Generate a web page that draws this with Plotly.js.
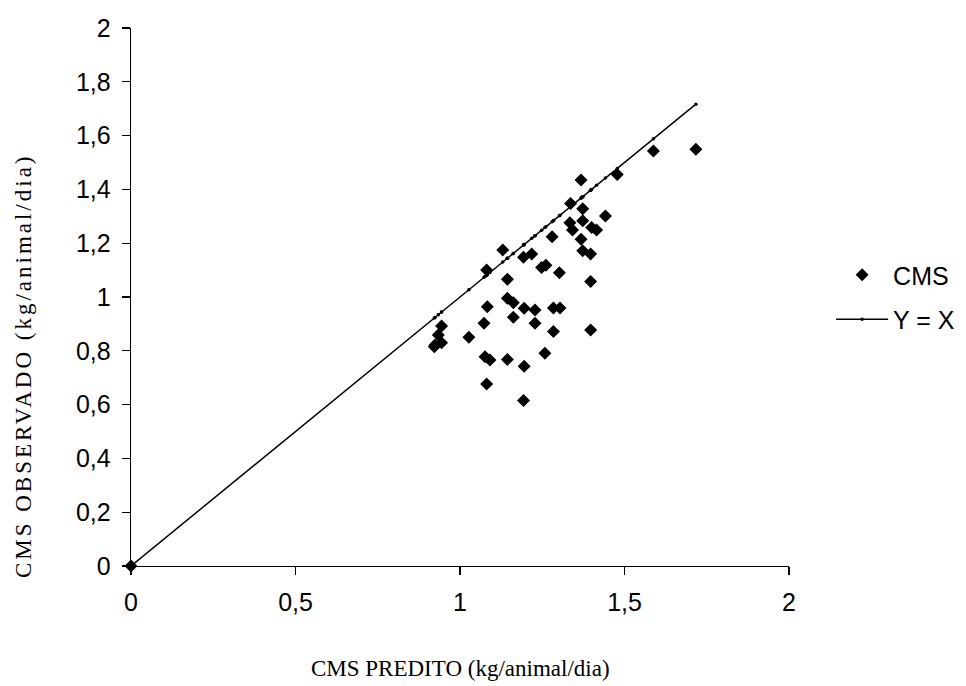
<!DOCTYPE html>
<html>
<head>
<meta charset="utf-8">
<script src="https://cdn.plot.ly/plotly-3.0.1.min.js"></script>
<style>html,body{margin:0;padding:0;background:#fff;}#chart{width:966px;height:686px;}</style>
</head>
<body>
<div id="chart"></div>
<script>
// CMS predito (x) e observado (y), kg/animal/dia
var predito = [0, 1.717, 1.588, 1.478, 1.368, 1.336, 1.373, 1.442, 1.334, 1.342, 1.373, 1.400, 1.415,
  1.280, 1.368, 1.373, 1.397, 1.130, 1.193, 1.218, 1.248, 1.261, 1.302, 1.081, 1.144, 1.397,
  1.144, 1.162, 1.083, 1.195, 1.228, 1.284, 1.304, 1.162, 1.073, 1.228, 0.944, 1.284, 1.397,
  0.934, 1.027, 0.924, 0.944, 0.922, 1.076, 1.091, 1.144, 1.258, 1.195, 1.081, 1.193];
var observado = [0, 1.549, 1.543, 1.455, 1.435, 1.348, 1.328, 1.301, 1.276, 1.249, 1.283, 1.258, 1.249,
  1.224, 1.215, 1.172, 1.160, 1.175, 1.148, 1.160, 1.110, 1.118, 1.090, 1.100, 1.066, 1.058,
  0.995, 0.979, 0.964, 0.958, 0.952, 0.959, 0.959, 0.925, 0.902, 0.902, 0.892, 0.872, 0.877,
  0.859, 0.850, 0.822, 0.830, 0.815, 0.778, 0.766, 0.768, 0.791, 0.743, 0.677, 0.615];
var nomeSerie = "CMS";
var nomeLinha = "Y = X";
var tituloX = "CMS PREDITO (kg/animal/dia)";
var tituloY = "CMS OBSERVADO (kg/animal/dia)";
var xTicks = [0, 0.5, 1, 1.5, 2];
var yTicks = [0, 0.2, 0.4, 0.6, 0.8, 1, 1.2, 1.4, 1.6, 1.8, 2];

// linha Y = X passando pelos valores preditos
var linhaX = predito.slice().sort(function(a,b){return a-b;});
var linhaY = linhaX.slice();

var traces = [
  {x: predito, y: observado, name: nomeSerie, type: 'scatter', mode: 'markers',
   legendgroup: 'a', cliponaxis: false,
   marker: {symbol: 'diamond', size: 10, color: '#000'}},
  {x: linhaX, y: linhaY, name: nomeLinha, type: 'scatter', mode: 'lines+markers',
   legendgroup: 'b', cliponaxis: false,
   line: {color: '#000', width: 1.5}, marker: {symbol: 'circle', size: 3.5, color: '#000'}}
];

var axisFont = {family: 'Liberation Sans, Arial, sans-serif', size: 25, color: '#000'};
var titleFont = {family: 'Liberation Serif, Times New Roman, serif', size: 23, color: '#000'};

var layout = {
  width: 966, height: 686,
  separators: ',.',
  paper_bgcolor: '#fff', plot_bgcolor: '#fff',
  margin: {l: 131, r: 177, t: 28, b: 120, autoexpand: false},
  showlegend: true,
  legend: {x: 1.064, y: 0.50, xanchor: 'left', yanchor: 'middle', font: axisFont,
           traceorder: 'grouped', tracegroupgap: 9, itemwidth: 52, bgcolor: 'rgba(0,0,0,0)'},
  xaxis: {range: [0, 2], tickvals: xTicks, showgrid: false, zeroline: false, automargin: false,
          showline: true, linecolor: '#000', linewidth: 1.3, ticks: 'outside', ticklen: 8,
          tickcolor: '#000', tickwidth: 1.3, tickfont: axisFont, ticklabelstandoff: 6},
  yaxis: {range: [0, 2], tickvals: yTicks, showgrid: false, zeroline: false, automargin: false,
          showline: true, linecolor: '#000', linewidth: 1.3, ticks: 'outside', ticklen: 8,
          tickcolor: '#000', tickwidth: 1.3, tickfont: axisFont, ticklabelstandoff: 6},
  annotations: [
    {text: tituloY, xref: 'paper', yref: 'paper', x: -0.163, y: 0.372, textangle: -90,
     xanchor: 'center', yanchor: 'middle', showarrow: false,
     font: {family: 'Liberation Serif, Times New Roman, serif', size: 23, color: '#000'}},
    {text: tituloX, xref: 'paper', yref: 'paper', x: 0.5, y: -0.19,
     xanchor: 'center', yanchor: 'middle', showarrow: false, font: titleFont}
  ]
};

Plotly.newPlot('chart', traces, layout, {displayModeBar: false, staticPlot: true}).then(function(gd){
  var t = gd.querySelectorAll('.annotation-text');
  if (t.length) { t[0].style.letterSpacing = '3px'; }
});
</script>
</body>
</html>
